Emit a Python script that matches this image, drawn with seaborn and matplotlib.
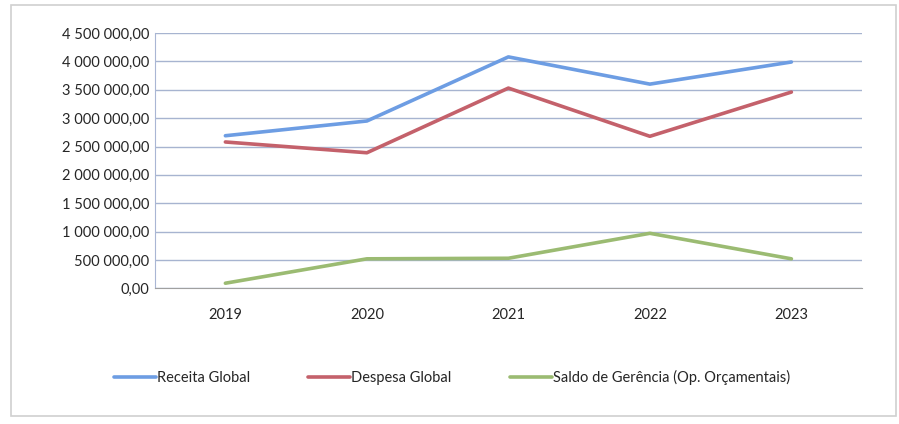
import pandas as pd
import matplotlib.pyplot as plt
import seaborn as sns
from matplotlib.ticker import FuncFormatter, FixedLocator
from matplotlib.patches import Rectangle

# values
anos = ["2019", "2020", "2021", "2022", "2023"]
receita = [2690000, 2950000, 4080000, 3600000, 3990000]
despesa = [2580000, 2390000, 3530000, 2680000, 3460000]
saldo = [90000, 520000, 530000, 970000, 520000]

series = ["Receita Global", "Despesa Global", "Saldo de Gerência (Op. Orçamentais)"]
cores = ["#6d9de3", "#c4616b", "#9bbb72"]

df = pd.DataFrame({
    "Ano": anos * 3,
    "Valor": receita + despesa + saldo,
    "Serie": [series[0]] * 5 + [series[1]] * 5 + [series[2]] * 5,
})
df["x"] = df["Ano"].map({a: i for i, a in enumerate(anos)})

sns.set_style("white")
plt.rcParams["font.family"] = ["Lato", "DejaVu Sans"]

fig = plt.figure(figsize=(8.99, 4.24), dpi=100)
ax = fig.add_axes([0.172, 0.32, 0.787, 0.602])

sns.lineplot(data=df, x="x", y="Valor", hue="Serie", palette=cores,
             linewidth=2.6, ax=ax, legend=True)

ax.set_xlim(-0.5, len(anos) - 0.5)
ax.set_ylim(0, 4500000)
ax.set_yticks(range(0, 4500001, 500000))
ax.yaxis.set_major_formatter(FuncFormatter(
    lambda v, p: f"{v:,.2f}".replace(",", " ").replace(".", ",")))
ax.set_xticks(range(len(anos)))
ax.set_xticklabels(anos)
ax.xaxis.set_minor_locator(FixedLocator([i + 0.5 for i in range(-1, len(anos))]))
ax.tick_params(axis="x", which="major", length=0, pad=14, labelsize=10.5)
ax.tick_params(axis="x", which="minor", length=4, color="#a0a0a0")
ax.tick_params(axis="y", length=0, labelsize=10.5, pad=4)
ax.set_xlabel("")
ax.set_ylabel("")

ax.grid(axis="y", color="#a7b4d0", linewidth=1.0)
ax.set_axisbelow(True)
for s in ["top", "right"]:
    ax.spines[s].set_visible(False)
ax.spines["left"].set_color("#a9b6d4")
ax.spines["bottom"].set_color("#a0a0a0")

handles, labels = ax.get_legend_handles_labels()
leg = ax.legend(handles, labels, loc="upper center", bbox_to_anchor=(0.42, -0.27),
                ncol=3, frameon=False, fontsize=10.5, handlelength=2.9,
                handletextpad=0.05, columnspacing=4.0)

# faint frame of the scanned chart area
fig.patches.append(Rectangle((0.012, 0.018), 0.985, 0.97, transform=fig.transFigure,
                             fill=False, edgecolor="#d0d0d0", linewidth=1.2))

fig.savefig("out.png", dpi=100)
